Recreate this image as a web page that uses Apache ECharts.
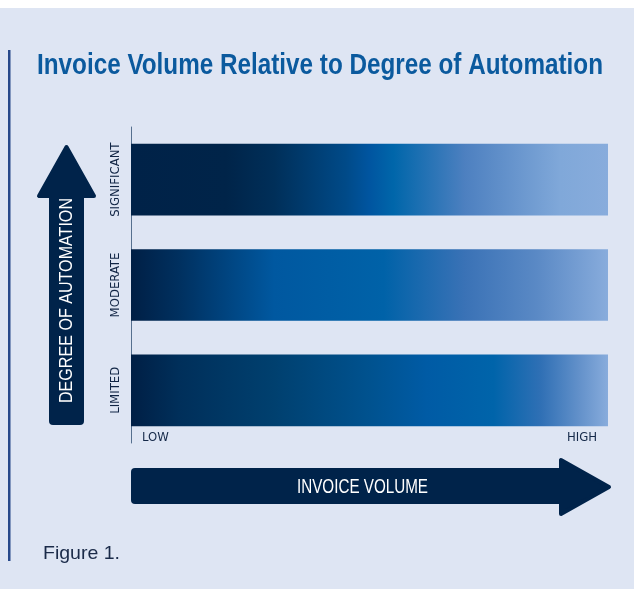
<!DOCTYPE html>
<html>
<head>
<meta charset="utf-8">
<script src="https://cdn.jsdelivr.net/npm/echarts@6/dist/echarts.min.js"></script>
<style>
  html, body { margin: 0; padding: 0; background: #fff; }
  #main { width: 634px; height: 581px; margin-top: 8px; }
</style>
</head>
<body>
<div id="main"></div>
<script>
// data
const categories = ['LIMITED', 'MODERATE', 'SIGNIFICANT'];
const volume = [1, 1, 1];
const xTickLabels = ['LOW', 'HIGH'];

const narrow = '"DejaVu Sans Condensed", "Liberation Sans", sans-serif';
const sans = '"Liberation Sans", Arial, sans-serif';
const navy = '#00234a';

// gradient stops per bar (bottom to top)
const barStops = [
  [[0, '#001f45'], [0.1, '#002f5a'], [0.3, '#00406f'], [0.5, '#00528f'], [0.62, '#005ba5'], [0.76, '#0064aa'], [0.86, '#3070b5'], [0.94, '#6391ca'], [1, '#88acdc']],
  [[0, '#001f45'], [0.1, '#00305f'], [0.3, '#0058a0'], [0.53, '#0062a8'], [0.7, '#3a72b6'], [0.85, '#5a89c5'], [1, '#88acdc']],
  [[0, '#002248'], [0.2, '#002449'], [0.3, '#002f59'], [0.45, '#004a88'], [0.5, '#0055a0'], [0.55, '#0066aa'], [0.7, '#4d80c0'], [0.9, '#80a8d9'], [1, '#88acdc']]
];

function grad(stops) {
  return new echarts.graphic.LinearGradient(0, 0, 1, 0,
    stops.map(s => ({ offset: s[0], color: s[1] })));
}

// squeeze a text horizontally to the width it has in the figure (condensed face)
const ctx = document.createElement('canvas').getContext('2d');
function squeeze(text, weight, size, width) {
  ctx.font = weight + ' ' + size + 'px ' + sans;
  return width / ctx.measureText(text).width;
}

function label(text, x, y, opts) {
  const sx = squeeze(text, opts.weight || 'normal', opts.size, opts.width);
  return {
    type: 'text', x: x, y: y, rotation: opts.rotation || 0,
    scaleX: sx, scaleY: 1,
    style: {
      text: text, fill: opts.color, fontFamily: sans, fontSize: opts.size,
      fontWeight: opts.weight || 'normal', align: opts.align || 'center', verticalAlign: 'middle'
    }
  };
}

const chart = echarts.init(document.getElementById('main'));

chart.setOption({
  backgroundColor: '#dee5f3',
  animation: false,
  grid: { left: 131, right: 26, top: 119, bottom: 146 },
  xAxis: {
    type: 'value',
    min: 0,
    max: 1,
    interval: 1,
    axisLine: { show: false },
    axisTick: { show: false },
    splitLine: { show: false },
    axisLabel: {
      formatter: v => (v === 0 ? xTickLabels[0] : xTickLabels[1]),
      alignMinLabel: 'left',
      alignMaxLabel: 'right',
      padding: [0, 11],
      margin: -12,
      fontFamily: narrow,
      fontSize: 13,
      color: '#142848'
    }
  },
  yAxis: {
    type: 'category',
    data: categories,
    axisLine: { show: true, lineStyle: { color: '#56708f', width: 1 } },
    axisTick: { show: false },
    axisLabel: {
      rotate: 90,
      margin: 9,
      fontFamily: narrow,
      fontSize: 13,
      color: '#102444'
    }
  },
  series: [{
    type: 'bar',
    barCategoryGap: '32%',
    data: volume.map((v, i) => ({ value: v, itemStyle: { color: grad(barStops[i]) } }))
  }],
  graphic: [
    // left rule
    { type: 'rect', shape: { x: 8, y: 42, width: 2.5, height: 511 }, style: { fill: '#27488a' } },
    // title
    label('Invoice Volume Relative to Degree of Automation', 37, 58,
      { size: 29, weight: 'bold', width: 566, color: '#0b5a9e', align: 'left' }),
    // vertical arrow
    { type: 'rect', shape: { x: 49, y: 180, width: 35, height: 237, r: 4 }, style: { fill: navy } },
    { type: 'polygon', shape: { points: [[66.5, 139], [39, 188], [94, 188]] },
      style: { fill: navy, stroke: navy, lineWidth: 4, lineJoin: 'round' } },
    label('DEGREE OF AUTOMATION', 67, 292.5,
      { size: 19, width: 205, color: '#fff', rotation: Math.PI / 2 }),
    // horizontal arrow
    { type: 'rect', shape: { x: 131, y: 460, width: 434, height: 36, r: 4 }, style: { fill: navy } },
    { type: 'polygon', shape: { points: [[561, 452], [561, 506], [609, 479]] },
      style: { fill: navy, stroke: navy, lineWidth: 4, lineJoin: 'round' } },
    label('INVOICE VOLUME', 362.5, 479, { size: 20, width: 131, color: '#fff' }),
    // caption
    label('Figure 1.', 43, 545.5, { size: 19, width: 77, color: '#1a2a48', align: 'left' })
  ]
});
</script>
</body>
</html>
